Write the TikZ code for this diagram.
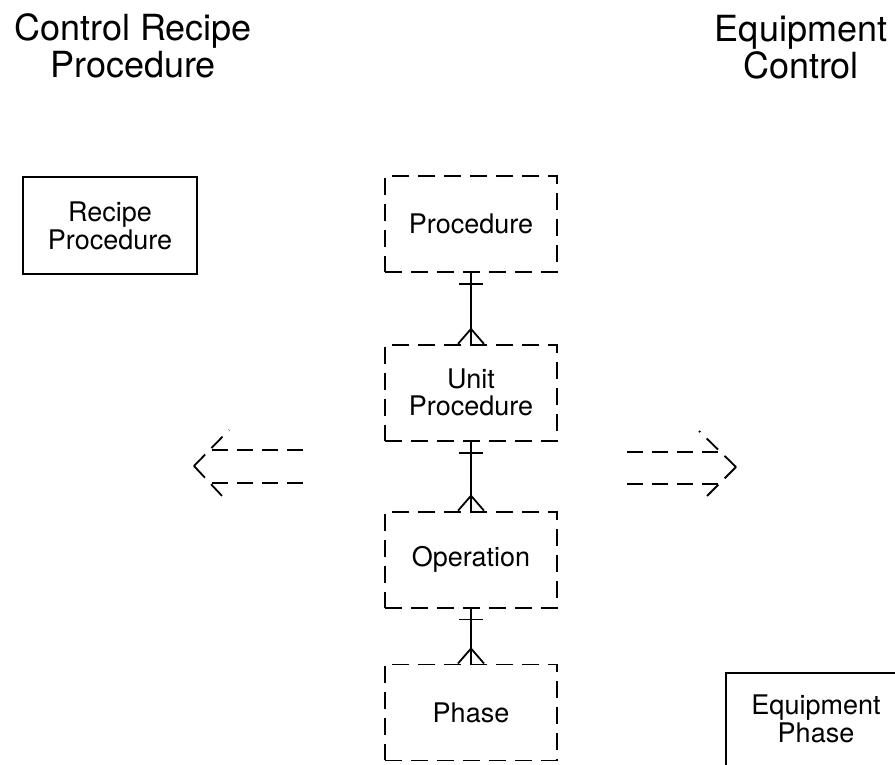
\documentclass[tikz,border=0pt]{standalone}
\usepackage{fontspec}
\setsansfont{TeX Gyre Heros}
\usepackage{tikz}
\usetikzlibrary{positioning,calc}

\begin{document}
\begin{tikzpicture}[
			x=0.5pt,y=-0.5pt,
			node distance=35.5pt,
			head/.style={align=center,inner sep=0pt,anchor=north,font=\fontsize{18}{18.5}\selectfont\sffamily},
			entity/.style={draw,dash pattern=on 8.5pt off 4.5pt,line width=0.9pt,minimum width=86pt,minimum height=48pt,inner sep=0pt,align=center,font=\fontsize{13.5}{13.5}\selectfont\sffamily},
			plainbox/.style={draw,line width=0.8pt,minimum width=87pt,minimum height=48.5pt,inner sep=0pt,align=center,font=\fontsize{13.5}{14}\selectfont\sffamily},
			link/.style={line width=0.9pt},
			flow/.style={line width=0.9pt,dash pattern=on 8pt off 4.5pt}
			]
			\useasboundingbox (0,0) rectangle (895,765);
			\node[head] (crp) at (133,13) {Control Recipe\\Procedure};
			\node[head] (ec) at (801,15) {Equipment\\Control};
			\node[plainbox] (rp) at (110,225.5) {Recipe\\Procedure};
			\node[entity] (proc) at (471,224) {Procedure};
			\node[entity] (unit) [below=of proc] {Unit\\Procedure};
			\node[entity] (oper) [below=34.5pt of unit] {Operation};
			\node[entity] (phase) [below=27.5pt of oper] {Phase};
			\node[plainbox,anchor=north,minimum width=90pt,inner ysep=11pt,text depth=30pt] (eqph) at (816,672) {Equipment\\Phase};
			% one-to-many links
			\foreach \a/\b in {proc/unit,unit/oper,oper/phase}{
				\draw[link] (\a.south) -- (\b.north);
				\draw[link] ($(\a.south)+(-6pt,-5.5pt)$) -- ++(12pt,0);
				\draw[link] ($(\b.north)+(-6.5pt,0)$) -- ($(\b.north)+(0,7.5pt)$) -- ($(\b.north)+(6.5pt,0)$);
			}
			% double arrows
			\coordinate (ltip) at (194,466);
			\coordinate (rtip) at (736,467);
			\draw[flow] ($(ltip)+(9pt,8pt)$) -- ++(45.5pt,0);
			\draw[flow] ($(ltip)+(9pt,-8.5pt)$) -- ++(45.5pt,0);
			\draw[flow] (ltip) -- ($(ltip)+(17.5pt,18pt)$);
			\draw[flow] (ltip) -- ($(ltip)+(14.5pt,-15.5pt)$);
			\draw[flow] ($(rtip)+(-54.5pt,7.5pt)$) -- ++(46.5pt,0);
			\draw[flow] ($(rtip)+(-54.5pt,-8.5pt)$) -- ++(46.5pt,0);
			\draw[flow] (rtip) -- ($(rtip)+(-18.5pt,18pt)$);
			\draw[flow] (rtip) -- ($(rtip)+(-14.5pt,-14.5pt)$);
		\end{tikzpicture}
\end{document}
